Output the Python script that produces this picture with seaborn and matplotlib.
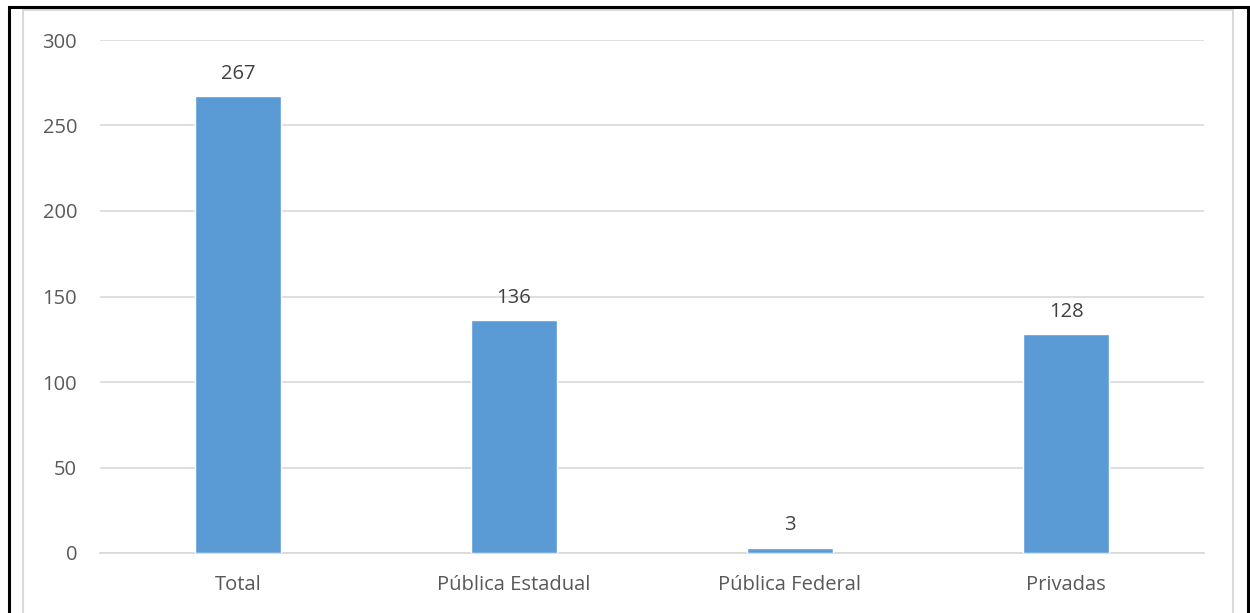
import matplotlib
matplotlib.use("Agg")
import matplotlib.pyplot as plt
import seaborn as sns
import pandas as pd
from matplotlib.patches import Rectangle

categories = ["Total", "Pública Estadual", "Pública Federal", "Privadas"]
values = [267, 136, 3, 128]
y_ticks = [0, 50, 100, 150, 200, 250, 300]

sns.set_style("white")
plt.rcParams['font.family'] = ['Open Sans', 'DejaVu Sans']

df = pd.DataFrame({"cat": categories, "val": values})

fig = plt.figure(figsize=(12.5, 6.13), dpi=100)
ax = fig.add_axes([100/1250, 60/613, 1104/1250, 513/613])

sns.barplot(data=df, x="cat", y="val", color="#5B9BD5", width=0.31,
            saturation=1, ax=ax, zorder=3)

ax.set_ylim(0, 300)
ax.set_xlim(-0.5, len(categories) - 0.5)
ax.set_yticks(y_ticks)
ax.yaxis.grid(True, color="#D9D9D9", linewidth=1.2, zorder=0)
ax.set_axisbelow(True)
for s in ["top", "right", "left"]:
    ax.spines[s].set_visible(False)
ax.spines["bottom"].set_color("#D9D9D9")
ax.spines["bottom"].set_linewidth(1.2)
ax.tick_params(axis="both", length=0, labelsize=14.5, labelcolor="#595959")
ax.tick_params(axis="y", pad=16.5)
ax.tick_params(axis="x", pad=16)
ax.set_xlabel("")
ax.set_ylabel("")

for i, v in enumerate(values):
    ax.annotate(str(v), (i, v), xytext=(0, 9), textcoords="offset points",
                ha="center", va="bottom", fontsize=14.5, color="#404040")

# frames
fig.patches.append(Rectangle((23/1250, -0.01), (1233-23)/1250, (613-10)/613 + 0.01,
                             transform=fig.transFigure, fill=False,
                             edgecolor="#D9D9D9", linewidth=1.5, zorder=0))
fig.patches.append(Rectangle((9/1250, -0.02), (1248-9)/1250, (613-7)/613 + 0.02,
                             transform=fig.transFigure, fill=False,
                             edgecolor="black", linewidth=2.2, zorder=1))

fig.savefig("out.png", dpi=100)
